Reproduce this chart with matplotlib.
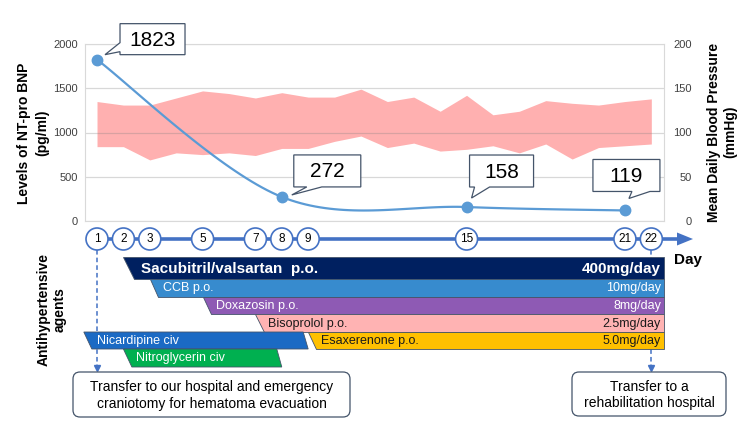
import numpy as np
import matplotlib
matplotlib.use("Agg")
import matplotlib.pyplot as plt
from matplotlib.patches import Polygon, Circle, FancyBboxPatch

plt.rcParams["font.family"] = ["Liberation Sans", "DejaVu Sans"]

# NT-pro BNP (pg/ml)
bnp_days = [1, 8, 15, 21]
bnp_vals = [1823, 272, 158, 119]

# daily blood pressure range (mmHg), days 1-22
bp_days = list(range(1, 23))
bp_high = [135, 131, 131, 139, 147, 144, 139, 145, 140, 140, 149, 135,
           140, 124, 142, 120, 124, 136, 133, 131, 135, 138]
bp_low = [84, 84, 69, 77, 75, 77, 74, 82, 82, 90, 96, 83,
          88, 79, 81, 85, 77, 87, 70, 83, 85, 87]

timeline_days = [1, 2, 3, 5, 7, 8, 9, 15, 21, 22]

# antihypertensive agents (None = continued to discharge)
drug_names = ["Sacubitril/valsartan  p.o.", "CCB p.o.", "Doxazosin p.o.",
              "Bisoprolol p.o.", "Nicardipine civ", "Esaxerenone p.o.",
              "Nitroglycerin civ"]
drug_start = [2, 3, 5, 7, 0.5, 9, 2]
drug_end = [None, None, None, None, 9, None, 8]
drug_dose = ["400mg/day", "10mg/day", "8mg/day", "2.5mg/day", "", "5.0mg/day", ""]
drug_row = [0, 1, 2, 3, 4, 4, 5]
drug_colors = ["#002060", "#378BCE", "#8E5AB4", "#FFB3B3", "#1B6AC4", "#FFC000", "#00B050"]
drug_text = ["white", "white", "white", "#1a1a1a", "white", "#1a1a1a", "white"]

events_left = "Transfer to our hospital and emergency\ncraniotomy for hematoma evacuation"
events_right = "Transfer to a\nrehabilitation hospital"

W, H = 750, 422
fig = plt.figure(figsize=(W / 100, H / 100), dpi=100)

ax = fig.add_axes([85 / W, 1 - 221 / H, (664 - 85) / W, (221 - 44) / H])
ax2 = ax.twinx()
ax.set_zorder(ax2.get_zorder() + 1)
ax.patch.set_visible(False)

ax.set_xlim(0.545, 22.48)
ax.set_ylim(0, 2000)
ax2.set_ylim(0, 200)
ax.set_yticks(np.arange(0, 2001, 500))
ax2.set_yticks(np.arange(0, 201, 50))
ax.set_xticks([])

ax2.fill_between(bp_days, bp_low, bp_high, color="#FFB0B0", lw=0, zorder=1)
ax.yaxis.grid(True, color="#808080", alpha=0.3, lw=0.9)


def smooth(xs, ys, n=40):
    # excel-like smoothed line (bezier through points)
    p = np.column_stack([xs, ys]).astype(float)
    ext = np.vstack([p[0], p, p[-1]])
    out = []
    for i in range(len(p) - 1):
        a, b = p[i], p[i + 1]
        c1 = a + (ext[i + 2] - ext[i]) / 6
        c2 = b - (ext[i + 3] - ext[i + 1]) / 6
        t = np.linspace(0, 1, n)[:, None]
        seg = (1 - t) ** 3 * a + 3 * (1 - t) ** 2 * t * c1 + 3 * (1 - t) * t ** 2 * c2 + t ** 3 * b
        out.append(seg)
    out = np.vstack(out)
    return out[:, 0], out[:, 1]


sx, sy = smooth(bnp_days, bnp_vals)
ax.plot(sx, sy, color="#5B9BD5", lw=1.6, zorder=3)
ax.plot(bnp_days, bnp_vals, "o", color="#5B9BD5", ms=7.5, zorder=4)

for s in ax.spines.values():
    s.set_color("#D9D9D9")
    s.set_linewidth(0.8)
for s in ax2.spines.values():
    s.set_visible(False)
ax.tick_params(axis="y", length=0, pad=5, labelsize=8, labelcolor="#404040")
ax2.tick_params(axis="y", length=0, pad=20, labelsize=8, labelcolor="#404040")
for lab in ax2.get_yticklabels():
    lab.set_horizontalalignment("right")

# overlay in pixel coordinates
ov = fig.add_axes([0, 0, 1, 1])
ov.set_xlim(0, W)
ov.set_ylim(H, 0)
ov.axis("off")
ov.set_zorder(10)


def to_px(axis, x, y):
    dx, dy = axis.transData.transform((x, y))
    return dx, H - dy


def day_x(d):
    return to_px(ax, d, 0)[0]


edge = "#44546A"

# callouts: box offset from point (left, top, w, h), pointer tip offset, base
callouts = [
    ((23, -36, 65, 31), (8, -5), "left", (-17, -8)),
    ((12, -42, 67, 32), (10, -2), "bottom", (25, 40)),
    ((3, -52, 64, 32), (5, -9), "bottom", (8, 23)),
    ((-32, -51, 67, 32), (4, -12), "bottom", (7, 25)),
]
for d, v, (box, tip_off, side, base) in zip(bnp_days, bnp_vals, callouts):
    bx, by, bw, bh = box
    px, py = to_px(ax, d, v)
    L, T = px + bx, py + by
    R, B = L + bw, T + bh
    tip = (px + tip_off[0], py + tip_off[1])
    if side == "left":
        verts = [(L, T), (R, T), (R, B), (L, B), (L, py + base[1]), tip, (L, py + base[0])]
    else:
        verts = [(L, T), (R, T), (R, B), (px + base[1], B), tip, (px + base[0], B), (L, B)]
    ov.add_patch(Polygon(verts, closed=True, fc="white", ec=edge, lw=0.9))
    ov.text((L + R) / 2, (T + B) / 2 + 1, str(v), ha="center", va="center", fontsize=15)

# axis titles
ov.text(33, 133, "Levels of NT-pro BNP\n(pg/ml)", rotation=90, ha="center", va="center",
        multialignment="center", fontsize=10, fontweight="bold", linespacing=1.4)
ov.text(722, 132, "Mean Daily Blood Pressure\n(mmHg)", rotation=90, ha="center", va="center",
        multialignment="center", fontsize=10, fontweight="bold", linespacing=1.25)
ov.text(52, 310, "Antihypertensive\nagents", rotation=90, ha="center", va="center",
        multialignment="center", fontsize=10, fontweight="bold", linespacing=1.2)

# timeline
tl_y = 239
blue = "#4472C4"
ov.plot([day_x(timeline_days[0]), 680], [tl_y, tl_y], color=blue, lw=2.6, solid_capstyle="butt", zorder=1)
ov.add_patch(Polygon([(677, tl_y - 6.5), (693, tl_y), (677, tl_y + 6.5)], fc=blue, ec="none"))
for d in timeline_days:
    cx = day_x(d)
    ov.add_patch(Circle((cx, tl_y), 11, fc="white", ec=blue, lw=1.2, zorder=3))
    ov.text(cx, tl_y + 0.5, str(d), ha="center", va="center", fontsize=8.5, zorder=4)
ov.text(688, 260, "Day", ha="center", va="center", fontsize=11, fontweight="bold")

# drug bars
row_top = [257, 279, 297, 314, 332, 349]
row_h = [22, 18, 17, 18, 17, 18]
x_end = day_x(ax.get_xlim()[1])
for name, st, en, dose, row, col, tc in zip(drug_names, drug_start, drug_end, drug_dose,
                                             drug_row, drug_colors, drug_text):
    T = row_top[row]
    h = row_h[row]
    B = T + h
    sl = 0.47 * h
    xl = day_x(st)
    if en is None:
        xr_t = xr_b = x_end
    else:
        xr_b = day_x(en)
        xr_t = xr_b - 5
    verts = [(xl, T), (xr_t, T), (xr_b, B), (xl + sl, B)]
    ov.add_patch(Polygon(verts, closed=True, fc=col, ec=edge, lw=0.6))
    bold = row == 0
    fs = 11 if bold else 9
    ov.text(xl + (18 if bold else 13), T + h / 2 + 0.5, name, ha="left", va="center",
            color=tc, fontsize=fs, fontweight="bold" if bold else "normal")
    if dose:
        ov.text(x_end - 3, T + h / 2 + 0.5, dose, ha="right", va="center",
                color=tc, fontsize=fs, fontweight="bold" if bold else "normal")

# event arrows and boxes
for d in [timeline_days[0], timeline_days[-1]]:
    x = day_x(d)
    ov.plot([x, x], [tl_y + 11, 366], color=blue, lw=1.1, ls=(0, (3, 2)), zorder=0)
    ov.plot(x, 367.5, marker="v", color=blue, ms=5, zorder=0)

for (L, T, w, h), txt in [((73, 372, 277, 45), events_left), ((572, 372, 154, 44), events_right)]:
    ov.add_patch(FancyBboxPatch((L, T), w, h, boxstyle="round,pad=0,rounding_size=7",
                                fc="white", ec=edge, lw=0.9))
    ov.text(L + w / 2, T + h / 2 + 1, txt, ha="center", va="center", fontsize=10,
            multialignment="center", linespacing=1.25)

fig.savefig("out.png", dpi=100)
